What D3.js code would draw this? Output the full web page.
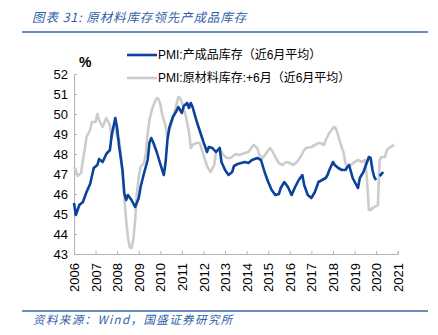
<!DOCTYPE html>
<html>
<head>
<meta charset="utf-8">
<script src="https://cdn.jsdelivr.net/npm/d3@7"></script>
<style>
  body { margin: 0; background: #fff; }
  svg { display: block; }
</style>
</head>
<body>
<svg id="chart" width="438" height="335"></svg>
<script>
// PMI 产成品库存（近6月平均）
const finishedStock = [
  ['2006-01', 45.55], ['2006-02', 44.95], ['2006-04', 45.45], ['2006-06', 45.6],
  ['2006-08', 46.1], ['2006-10', 46.5], ['2006-12', 47.3], ['2007-02', 47.45],
  ['2007-03', 47.75], ['2007-05', 47.6], ['2007-07', 48.0], ['2007-09', 48.2],
  ['2007-10', 48.95], ['2007-12', 49.8], ['2008-01', 49.3], ['2008-02', 48.45],
  ['2008-04', 47.2], ['2008-05', 46.05], ['2008-06', 45.7], ['2008-07', 45.95],
  ['2008-09', 45.7], ['2008-11', 45.35], ['2009-01', 45.8], ['2009-02', 46.35],
  ['2009-04', 47.05], ['2009-06', 47.7], ['2009-07', 48.55], ['2009-08', 48.8],
  ['2009-09', 48.6], ['2009-11', 48.1], ['2010-01', 47.5], ['2010-03', 46.95],
  ['2010-04', 47.6], ['2010-05', 48.7], ['2010-06', 49.3], ['2010-08', 49.85],
  ['2010-10', 50.15], ['2010-11', 50.35], ['2011-01', 50.05], ['2011-02', 50.4],
  ['2011-04', 50.55], ['2011-05', 50.3], ['2011-06', 50.55], ['2011-07', 50.35],
  ['2011-09', 49.7], ['2011-11', 49.15], ['2012-01', 48.6], ['2012-03', 48.1],
  ['2012-04', 48.35], ['2012-06', 48.3], ['2012-08', 48.1], ['2012-10', 48.3],
  ['2012-11', 47.6], ['2013-01', 47.2], ['2013-03', 46.95], ['2013-05', 47.1],
  ['2013-06', 47.4], ['2013-08', 47.5], ['2013-10', 47.55], ['2013-12', 47.6],
  ['2014-02', 47.55], ['2014-04', 47.7], ['2014-07', 47.8], ['2014-09', 47.7],
  ['2014-11', 47.1], ['2015-01', 46.6], ['2015-03', 46.2], ['2015-05', 45.95],
  ['2015-07', 46.0], ['2015-08', 46.3], ['2015-10', 46.6], ['2015-12', 46.35],
  ['2016-02', 45.95], ['2016-04', 46.35], ['2016-06', 46.7], ['2016-08', 46.95],
  ['2016-09', 46.45], ['2016-11', 45.95], ['2017-01', 45.8], ['2017-03', 46.1],
  ['2017-05', 46.6], ['2017-07', 46.7], ['2017-09', 46.8], ['2017-10', 46.95],
  ['2017-11', 47.2], ['2018-01', 47.6], ['2018-02', 47.45], ['2018-04', 47.3],
  ['2018-06', 47.2], ['2018-08', 47.2], ['2018-09', 47.35], ['2018-10', 47.45],
  ['2018-12', 46.8], ['2019-02', 46.45], ['2019-03', 46.3], ['2019-04', 46.8],
  ['2019-06', 47.1], ['2019-08', 47.6], ['2019-09', 47.85], ['2019-10', 47.8],
  ['2019-11', 47.2], ['2019-12', 46.85], ['2020-01', 46.7], ['2020-02', null],
  ['2020-03', 46.9], ['2020-04', 47.0], ['2020-05', 47.1],
];

// PMI 原材料库存，前移6个月（近6月平均）
const rawStockLead = [
  ['2006-01', 47.35], ['2006-02', 47.2], ['2006-03', 46.9], ['2006-05', 47.05],
  ['2006-06', 47.7], ['2006-07', 48.2], ['2006-08', 48.85], ['2006-10', 49.2],
  ['2006-11', 49.6], ['2007-01', 49.6], ['2007-02', 50.0], ['2007-03', 49.7],
  ['2007-05', 49.35], ['2007-07', 49.8], ['2007-09', 49.45], ['2007-10', 48.8],
  ['2007-11', 49.3], ['2007-12', 49.4], ['2008-01', 48.85], ['2008-02', 48.75],
  ['2008-03', 48.05], ['2008-04', 47.05], ['2008-05', 45.85], ['2008-06', 44.7],
  ['2008-07', 43.85], ['2008-08', 43.35], ['2008-09', 43.3], ['2008-10', 43.7],
  ['2008-11', 44.7], ['2008-12', 46.05], ['2009-01', 46.85], ['2009-02', 47.35],
  ['2009-04', 47.55], ['2009-05', 48.05], ['2009-06', 49.05], ['2009-07', 49.7],
  ['2009-08', 50.1], ['2009-09', 50.4], ['2009-11', 50.8], ['2009-12', 50.75],
  ['2010-01', 50.5], ['2010-02', 50.0], ['2010-04', 49.4], ['2010-05', 48.8],
  ['2010-07', 49.45], ['2010-09', 50.1], ['2010-11', 50.85], ['2010-12', 50.8],
  ['2011-01', 50.6], ['2011-03', 50.0], ['2011-05', 49.1], ['2011-06', 48.3],
  ['2011-07', 48.45], ['2011-09', 48.55], ['2011-11', 48.55], ['2012-01', 47.95],
  ['2012-03', 47.4], ['2012-05', 47.1], ['2012-07', 47.45], ['2012-08', 48.1],
  ['2012-10', 48.3], ['2012-12', 47.95], ['2013-02', 47.8], ['2013-04', 47.8],
  ['2013-07', 48.0], ['2013-09', 47.95], ['2013-12', 48.05], ['2014-02', 48.1],
  ['2014-04', 48.35], ['2014-05', 48.45], ['2014-07', 48.3], ['2014-08', 47.95],
  ['2014-10', 47.8], ['2014-12', 48.05], ['2015-02', 48.3], ['2015-03', 48.2],
  ['2015-05', 47.85], ['2015-07', 47.55], ['2015-09', 47.45], ['2015-11', 47.6],
  ['2016-01', 47.55], ['2016-03', 47.45], ['2016-05', 47.6], ['2016-07', 47.85],
  ['2016-09', 48.2], ['2016-10', 48.3], ['2017-01', 48.35], ['2017-03', 48.45],
  ['2017-05', 48.55], ['2017-06', 48.55], ['2017-08', 48.45], ['2017-09', 48.7],
  ['2017-11', 49.05], ['2018-01', 49.3], ['2018-02', 49.35], ['2018-03', 49.2],
  ['2018-05', 48.6], ['2018-07', 48.05], ['2018-08', 47.55], ['2018-09', 47.35],
  ['2018-11', 47.45], ['2019-01', 47.6], ['2019-03', 47.7], ['2019-05', 47.6],
  ['2019-07', 47.7], ['2019-08', 46.7], ['2019-09', 45.2], ['2019-10', 45.2],
  ['2019-11', 45.3], ['2019-12', 45.35], ['2020-02', 45.45], ['2020-03', 47.7],
  ['2020-04', 47.85], ['2020-06', 47.85], ['2020-07', 48.2], ['2020-09', 48.35],
  ['2020-11', 48.45],
];

const yearTicks = d3.range(2006, 2022);
const valueTicks = d3.range(43, 53);
const seriesNames = ['PMI:产成品库存（近6月平均）', 'PMI:原材料库存:+6月（近6月平均）'];
const seriesColors = ['#0b429a', '#cccccc'];

const titleText = '图表 31:  原材料库存领先产成品库存';
const sourceText = '资料来源：Wind，国盛证券研究所';

const parseMonth = d3.timeParse('%Y-%m');
const toPoints = rows => rows.map(([m, v]) => ({ date: parseMonth(m), value: v }));

const svg = d3.select('#chart');
const plot = { left: 74, right: 397.7, top: 74, bottom: 254 };

const x = d3.scaleTime()
  .domain([new Date(2006, 0, 1), new Date(2021, 0, 1)])
  .range([plot.left, plot.right]);

const y = d3.scaleLinear()
  .domain([43, 52])
  .range([plot.bottom, plot.top]);

// header and footer
svg.append('text')
  .attr('x', 32).attr('y', 22)
  .attr('fill', '#2f5ea8')
  .style('font-family', '"Noto Sans CJK SC", sans-serif')
  .style('font-style', 'italic')
  .style('font-size', '12.5px')
  .style('letter-spacing', '0.9px')
  .text(titleText);

svg.append('line')
  .attr('x1', 22).attr('x2', 428).attr('y1', 32).attr('y2', 32)
  .attr('stroke', '#3a68ad').attr('stroke-width', 1.5);

svg.append('line')
  .attr('x1', 22).attr('x2', 428).attr('y1', 311).attr('y2', 311)
  .attr('stroke', '#3a68ad').attr('stroke-width', 1.5);

svg.append('text')
  .attr('x', 33).attr('y', 324)
  .attr('fill', '#2f5ea8')
  .style('font-family', '"Noto Sans CJK SC", sans-serif')
  .style('font-style', 'italic')
  .style('font-size', '11.5px')
  .style('letter-spacing', '1.4px')
  .text(sourceText);

// axes
const axisFont = '"Liberation Sans", Arial, sans-serif';

const yAxis = svg.append('g')
  .attr('transform', `translate(${plot.left},0)`)
  .call(d3.axisRight(y).tickValues(valueTicks).tickSize(3).tickFormat(d3.format('d')));
yAxis.selectAll('text')
  .attr('x', -6)
  .attr('text-anchor', 'end')
  .style('font-family', axisFont)
  .style('font-size', '13px')
  .attr('fill', '#000');

const xAxis = svg.append('g')
  .attr('transform', `translate(0,${plot.bottom})`)
  .call(d3.axisTop(x)
    .tickValues(yearTicks.map(yr => new Date(yr, 0, 1)))
    .tickSize(3)
    .tickFormat(d3.timeFormat('%Y')));
xAxis.selectAll('text')
  .attr('transform', 'rotate(-90)')
  .attr('x', -9)
  .attr('y', 0)
  .attr('dy', '0.35em')
  .attr('text-anchor', 'end')
  .style('font-family', axisFont)
  .style('font-size', '13px')
  .attr('fill', '#000');

svg.selectAll('.domain, .tick line').attr('stroke', '#b3b3b3');

svg.append('text')
  .attr('x', 79).attr('y', 67)
  .style('font-family', axisFont)
  .style('font-size', '14px')
  .style('font-weight', 'bold')
  .text('%');

// series lines, grey drawn underneath
const line = d3.line()
  .defined(d => d.value != null)
  .x(d => x(d.date))
  .y(d => y(d.value));

[rawStockLead, finishedStock].forEach((rows, i) => {
  svg.append('path')
    .datum(toPoints(rows))
    .attr('fill', 'none')
    .attr('stroke', seriesColors[1 - i])
    .attr('stroke-width', 2.6)
    .attr('stroke-linejoin', 'round')
    .attr('d', line);
});

// legend
const legend = svg.append('g').attr('transform', 'translate(127,55)');
seriesNames.forEach((name, i) => {
  const row = legend.append('g').attr('transform', `translate(0,${i * 23})`);
  row.append('line')
    .attr('x1', 0).attr('x2', 30)
    .attr('stroke', seriesColors[i]).attr('stroke-width', 2.6);
  row.append('text')
    .attr('x', 31).attr('dy', '0.35em')
    .style('font-family', '"Liberation Sans", "Noto Sans CJK SC", sans-serif')
    .style('font-size', '12px')
    .text(name);
});
</script>
</body>
</html>
